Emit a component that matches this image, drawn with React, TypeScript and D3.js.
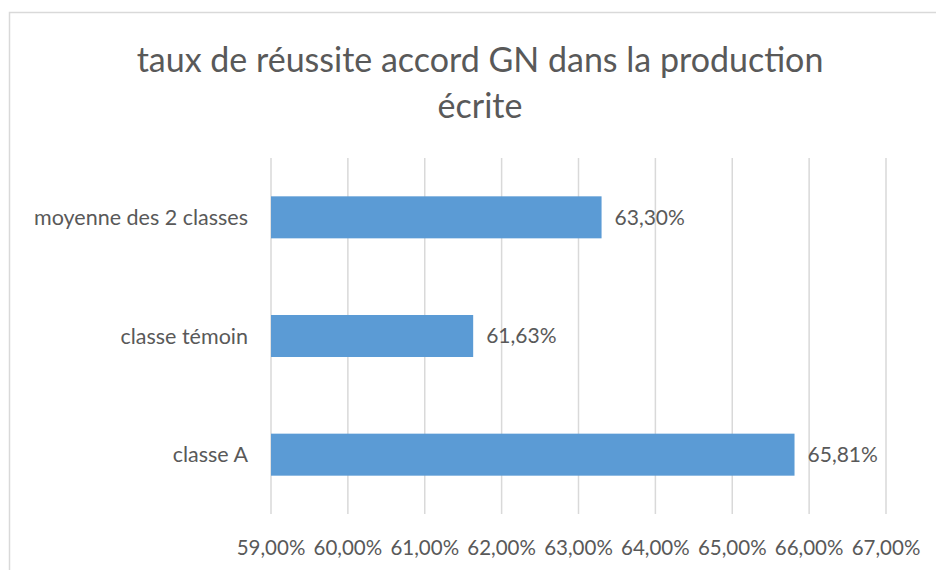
import React, { useEffect, useRef } from "react";
import * as d3 from "d3";

const categories = ["moyenne des 2 classes", "classe témoin", "classe A"];
const values = [0.633, 0.6163, 0.6581];
const xTicks = [0.59, 0.6, 0.61, 0.62, 0.63, 0.64, 0.65, 0.66, 0.67];
const titleLines = ["taux de réussite accord GN dans la production", "écrite"];

const App = () => {
  const ref = useRef<SVGSVGElement>(null);

  useEffect(() => {
    const width = 936;
    const height = 570;
    const svg = d3.select(ref.current);
    svg.selectAll("*").remove();

    const font = "Lato, 'Open Sans', sans-serif";
    const textColor = "#595959";

    const fr = d3.formatLocale({
      decimal: ",",
      thousands: " ",
      grouping: [3],
      currency: ["", " €"],
    });
    const pct = fr.format(".2%");

    // chart frame (right and bottom edges are cut off in the original)
    svg
      .append("rect")
      .attr("x", 9.5)
      .attr("y", 12.5)
      .attr("width", width + 20)
      .attr("height", height + 20)
      .attr("fill", "white")
      .attr("stroke", "#d9d9d9")
      .attr("stroke-width", 1.5);

    const x = d3.scaleLinear().domain([0.59, 0.67]).range([271, 886]);
    const y = d3
      .scaleBand()
      .domain(categories)
      .range([158, 514])
      .paddingInner(0.646)
      .paddingOuter(0.323);

    // title
    svg
      .append("g")
      .selectAll("text")
      .data(titleLines)
      .join("text")
      .attr("x", 480)
      .attr("y", (d, i) => 60 + i * 46)
      .attr("dy", "0.35em")
      .attr("text-anchor", "middle")
      .style("font-family", font)
      .style("font-size", "34px")
      .style("fill", textColor)
      .text((d) => d);

    // vertical gridlines
    svg
      .append("g")
      .selectAll("line")
      .data(xTicks)
      .join("line")
      .attr("x1", (d) => x(d))
      .attr("x2", (d) => x(d))
      .attr("y1", 158)
      .attr("y2", 514)
      .attr("stroke", "#d9d9d9")
      .attr("stroke-width", 1.5);

    // tick labels
    svg
      .append("g")
      .selectAll("text")
      .data(xTicks)
      .join("text")
      .attr("x", (d) => x(d))
      .attr("y", 548)
      .attr("dy", "0.35em")
      .attr("text-anchor", "middle")
      .style("font-family", font)
      .style("font-size", "20.5px")
      .style("fill", textColor)
      .text((d) => pct(d));

    // bars
    svg
      .append("g")
      .selectAll("rect")
      .data(values)
      .join("rect")
      .attr("x", x(0.59))
      .attr("y", (d, i) => y(categories[i]) as number)
      .attr("width", (d) => x(d) - x(0.59))
      .attr("height", y.bandwidth())
      .attr("fill", "#5b9bd5");

    // value labels
    svg
      .append("g")
      .selectAll("text")
      .data(values)
      .join("text")
      .attr("x", (d) => x(d) + 13)
      .attr("y", (d, i) => (y(categories[i]) as number) + y.bandwidth() / 2)
      .attr("dy", "0.35em")
      .style("font-family", font)
      .style("font-size", "21px")
      .style("fill", textColor)
      .text((d) => pct(d));

    // category labels
    svg
      .append("g")
      .selectAll("text")
      .data(categories)
      .join("text")
      .attr("x", 248)
      .attr("y", (d) => (y(d) as number) + y.bandwidth() / 2)
      .attr("dy", "0.35em")
      .attr("text-anchor", "end")
      .style("font-family", font)
      .style("font-size", "21.5px")
      .style("fill", textColor)
      .text((d) => d);
  }, []);

  return (
    <svg
      ref={ref}
      width={936}
      height={570}
      style={{ position: "absolute", left: 0, top: 0, display: "block" }}
    />
  );
};

export default App;
